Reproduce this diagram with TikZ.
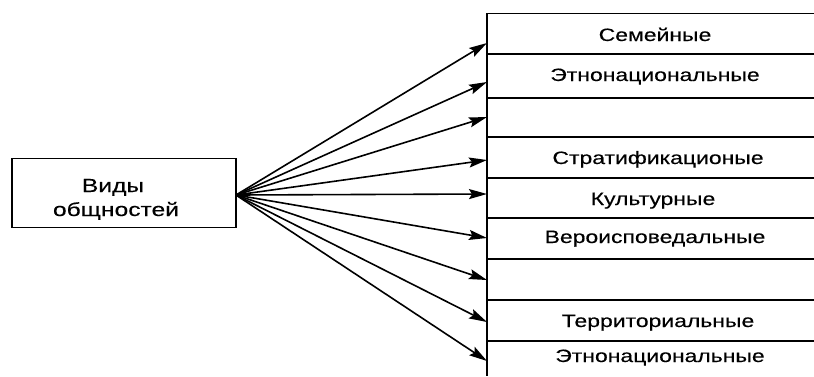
\documentclass[tikz,border=0pt]{standalone}
\usepackage{fontspec}
\setmainfont{Liberation Sans}
\newfontfamily\rowfont[FakeStretch=1.28,FakeBold=0.3]{Liberation Sans}
\newfontfamily\boxfont[FakeStretch=1.3,FakeBold=0.3]{Liberation Sans}
\usetikzlibrary{arrows.meta}
\begin{document}
\begin{tikzpicture}[x=1bp,y=-1bp,
  ln/.style={line width=1.8bp,black},
  arr/.style={line width=1.6bp,-{Stealth[length=18bp,width=10bp,inset=3bp]}},
  lbl/.style={font=\rowfont\fontsize{18}{21}\selectfont,inner sep=0pt,anchor=base},
  blbl/.style={font=\boxfont\fontsize{19}{22}\selectfont,inner sep=0pt,anchor=base},
  srcbox/.style={draw,line width=1.8bp,minimum width=224bp,minimum height=69bp,inner sep=0pt}]
\useasboundingbox (0,0) rectangle (814,376);
% source box
\node[srcbox] (vid) at (124,193) {};
\node[blbl] (vt1) at (113,192) {Виды};
\node[blbl] (vt2) at (116,216) {общностей};
\coordinate (src) at (236,195);
% stack
\coordinate (stTop) at (487,13);
\coordinate (stBot) at (487,376);
\draw[ln] (stTop) -- (stBot);
\foreach \y [count=\i] in {13.5,54,98,137,178,218,259,300,341}{
  \coordinate (h\i) at (487,\y);
  \draw[ln] (h\i) -- (814,\y);
}
% labels
\node[lbl] (r1) at (655,41) {Семейные};
\node[lbl] (r2) at (655,81) {Этнонациональные};
\node[lbl] (r4) at (658,164) {Стратификационые};
\node[lbl] (r5) at (653,205) {Культурные};
\node[lbl] (r6) at (655,243) {Вероисповедальные};
\node[lbl] (r8) at (658,327) {Территориальные};
\node[lbl] (r9) at (660,362) {Этнонациональные};
% arrow targets
\foreach \y [count=\i] in {43,82,117,160,194,238,280,322,361}{
  \coordinate (e\i) at (487,\y);
  \draw[arr] (src) -- (e\i);
}
\end{tikzpicture}
\end{document}
